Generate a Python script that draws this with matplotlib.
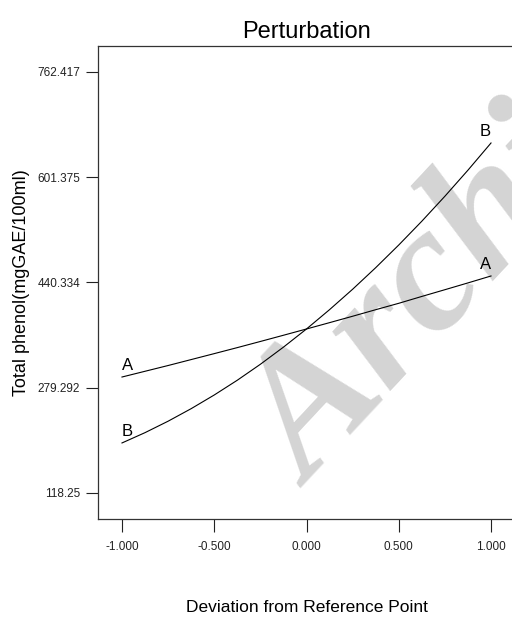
import matplotlib
matplotlib.use("Agg")
import matplotlib.pyplot as plt
import numpy as np

plt.rcParams["font.family"] = ["Liberation Sans", "DejaVu Sans"]

# deviation from reference point (coded units)
deviation = [-1.0, -0.875, -0.75, -0.625, -0.5, -0.375, -0.25, -0.125, 0.0,
             0.125, 0.25, 0.375, 0.5, 0.625, 0.75, 0.875, 1.0]
# Total phenol response
phenol_A = [295.7, 304.5, 313.3, 322.4, 331.5, 340.7, 350.1, 359.6, 369.2,
            378.9, 388.7, 398.7, 408.5, 419.0, 429.3, 439.7, 450.3]
phenol_B = [194.8, 210.6, 228.1, 247.3, 268.2, 290.8, 315.2, 341.4, 369.2,
            398.8, 430.0, 463.0, 497.7, 534.1, 572.3, 612.2, 653.8]

y_ticks = [118.25, 279.292, 440.334, 601.375, 762.417]
y_tick_labels = ["118.25", "279.292", "440.334", "601.375", "762.417"]
x_ticks = [-1.0, -0.5, 0.0, 0.5, 1.0]

fig = plt.figure(figsize=(5.12, 6.19), dpi=100)
ax = fig.add_axes([98 / 512, 100 / 619, 417 / 512, 473 / 619])

ax.plot(deviation, phenol_A, color="black", linewidth=0.8, zorder=3)
ax.plot(deviation, phenol_B, color="black", linewidth=0.8, zorder=3)

# curve labels at both ends
lab_kw = dict(fontsize=12, ha="center", va="bottom", zorder=4)
ax.text(deviation[0] + 0.03, phenol_A[0] + 6, "A", **lab_kw)
ax.text(deviation[0] + 0.03, phenol_B[0] + 6, "B", **lab_kw)
ax.text(deviation[-1] - 0.03, phenol_A[-1] + 6, "A", **lab_kw)
ax.text(deviation[-1] - 0.03, phenol_B[-1] + 6, "B", **lab_kw)

# watermark
ax.text(310 / 512, 1 - 488 / 619, "Archive of SID", transform=fig.transFigure,
        rotation=47, rotation_mode="anchor", ha="left", va="baseline",
        fontsize=130, family="Liberation Serif", weight="bold", style="italic",
        color="#d4d4d4", zorder=1, clip_on=False)

ax.set_xlim(-1.13, 1.13)
ax.set_ylim(78.45, 802.2)
ax.set_xticks(x_ticks)
ax.set_xticklabels([f"{v:.3f}" for v in x_ticks])
ax.set_yticks(y_ticks)
ax.set_yticklabels(y_tick_labels)
ax.tick_params(direction="out", length=9, width=0.8, labelsize=8.5, pad=4,
               colors="#222222")
ax.tick_params(axis="x", pad=7)

for side in ["top", "left", "bottom", "right"]:
    ax.spines[side].set_linewidth(0.9)
    ax.spines[side].set_color("#333333")

ax.set_title("Perturbation", fontsize=17, pad=6)
ax.set_xlabel("Deviation from Reference Point", fontsize=12.5, labelpad=34)
ax.set_ylabel("Total phenol(mgGAE/100ml)", fontsize=13, labelpad=5)

fig.savefig("out.png", dpi=100)
